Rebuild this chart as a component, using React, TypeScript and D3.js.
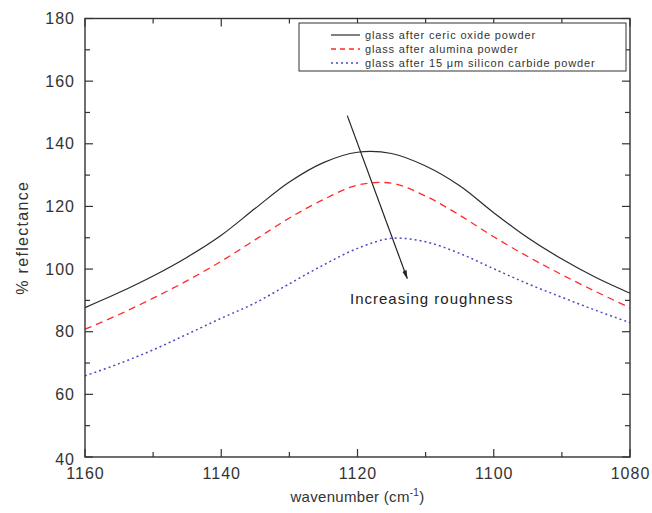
import React from "react";
import * as d3 from "d3";

const wavenumbers = [1160, 1155, 1150, 1145, 1140, 1135, 1130, 1125, 1120, 1115, 1110, 1105, 1100, 1095, 1090, 1085, 1080];
const cericOxide = [87.7, 92.5, 97.8, 103.8, 110.8, 119.4, 127.8, 134.0, 137.3, 136.9, 132.9, 126.6, 118.0, 110.0, 103.2, 97.3, 92.3];
const alumina = [80.8, 85.5, 90.7, 96.3, 102.5, 109.4, 116.3, 122.2, 126.8, 127.4, 123.3, 117.2, 110.3, 104.0, 98.2, 92.8, 87.6];
const siliconCarbide = [65.9, 69.8, 74.2, 79.2, 84.3, 89.2, 95.3, 101.3, 106.6, 109.8, 108.7, 105.0, 100.1, 95.3, 91.0, 86.8, 82.9];

const seriesNames = [
  "glass after ceric oxide powder",
  "glass after alumina powder",
  "glass after 15 \u03bcm silicon carbide powder",
];
const xMajorTicks = [1160, 1140, 1120, 1100, 1080];
const xMinorTicks = [1150, 1130, 1110, 1090];
const yMajorTicks = [40, 60, 80, 100, 120, 140, 160, 180];
const yMinorTicks = [50, 70, 90, 110, 130, 150, 170];

const arrowFrom = [1121.5, 149.0];
const arrowTo = [1112.7, 97.0];
const annotationAt = [1121.1, 88.8];
const annotationText = "Increasing roughness";

const W = 652;
const H = 513;
const FONT = "'Liberation Sans', Arial, sans-serif";

export default function App() {
  const x = d3.scaleLinear().domain([1160, 1080]).range([85, 630]);
  const y = d3.scaleLinear().domain([40, 180]).range([457, 18.5]);
  const [x0, x1] = x.range();
  const [y0, y1] = y.range();

  const line = d3
    .line<number>()
    .x((_, i) => x(wavenumbers[i]))
    .y((d) => y(d))
    .curve(d3.curveCatmullRom.alpha(0.5));

  const series = [
    { name: seriesNames[0], values: cericOxide, color: "#2b2b2b", dash: "none", legendDash: "none", width: 1.2 },
    { name: seriesNames[1], values: alumina, color: "#ff2a2a", dash: "7,5", legendDash: "5,4", width: 1.3 },
    { name: seriesNames[2], values: siliconCarbide, color: "#4a4ac8", dash: "2,3", legendDash: "2,3", width: 1.5 },
  ];

  const axisColor = "#333";
  const major = 8;
  const minor = 5;

  const ticks: JSX.Element[] = [];
  xMajorTicks.concat(xMinorTicks).forEach((t, i) => {
    const len = xMajorTicks.includes(t) ? major : minor;
    ticks.push(<line key={"xb" + i} x1={x(t)} x2={x(t)} y1={y0} y2={y0 - len} stroke={axisColor} strokeWidth={1.2} />);
    ticks.push(<line key={"xt" + i} x1={x(t)} x2={x(t)} y1={y1} y2={y1 + len} stroke={axisColor} strokeWidth={1.2} />);
  });
  yMajorTicks.concat(yMinorTicks).forEach((t, i) => {
    const len = yMajorTicks.includes(t) ? major : minor;
    ticks.push(<line key={"yl" + i} x1={x0} x2={x0 + len} y1={y(t)} y2={y(t)} stroke={axisColor} strokeWidth={1.2} />);
    ticks.push(<line key={"yr" + i} x1={x1} x2={x1 - len} y1={y(t)} y2={y(t)} stroke={axisColor} strokeWidth={1.2} />);
  });

  const legendX = 299;
  const legendY = 23;

  return (
    <svg width={W} height={H} style={{ position: "absolute", left: 0, top: 0, background: "#fff" }} fontFamily={FONT}>
      <defs>
        <marker id="arrowhead" viewBox="0 0 10 10" refX="9" refY="5" markerWidth="9" markerHeight="9" orient="auto" markerUnits="userSpaceOnUse">
          <path d="M0,2.5 L10,5 L0,7.5 Z" fill="#222" />
        </marker>
      </defs>
      <rect x={0} y={0} width={W} height={H} fill="#fff" />
      {series.map((s) => (
        <path key={s.name} d={line(s.values) || ""} fill="none" stroke={s.color} strokeWidth={s.width} strokeDasharray={s.dash} />
      ))}
      <rect x={x0} y={y1} width={x1 - x0} height={y0 - y1} fill="none" stroke={axisColor} strokeWidth={1.4} />
      {ticks}
      {xMajorTicks.map((t) => (
        <text key={"xl" + t} x={x(t) + 0.5} y={y0 + 22} textAnchor="middle" fontSize={16} letterSpacing={1} fill="#333">
          {t}
        </text>
      ))}
      {yMajorTicks.map((t) => (
        <text key={"yl" + t} x={x0 - 10} y={y(t) + (t === 40 ? 2 : 0)} dy="0.35em" textAnchor="end" fontSize={16} letterSpacing={1} fill="#333">
          {t}
        </text>
      ))}
      <text x={(x0 + x1) / 2} y={502} textAnchor="middle" fontSize={15} letterSpacing={0.3} fill="#333">
        wavenumber (cm<tspan dy={-6} fontSize={10}>-1</tspan>
        <tspan dy={6}>)</tspan>
      </text>
      <text transform={`translate(28,${(y0 + y1) / 2}) rotate(-90)`} textAnchor="middle" fontSize={16} letterSpacing={1.3} fill="#333">
        % reflectance
      </text>
      <line
        x1={x(arrowFrom[0])}
        y1={y(arrowFrom[1])}
        x2={x(arrowTo[0])}
        y2={y(arrowTo[1])}
        stroke="#222"
        strokeWidth={1.2}
        markerEnd="url(#arrowhead)"
      />
      <text x={x(annotationAt[0])} y={y(annotationAt[1])} fontSize={15} letterSpacing={1} fill="#222">
        {annotationText}
      </text>
      <rect x={legendX} y={legendY} width={327} height={48} fill="#fff" stroke={axisColor} strokeWidth={1} />
      {series.map((s, i) => (
        <g key={"lg" + i}>
          <line x1={331} x2={360} y1={legendY + 12 + i * 14} y2={legendY + 12 + i * 14} stroke={s.color} strokeWidth={s.width} strokeDasharray={s.legendDash} />
          <text x={365} y={legendY + 12 + i * 14} dy="0.35em" fontSize={11} letterSpacing={0.85} fill="#333">
            {s.name}
          </text>
        </g>
      ))}
    </svg>
  );
}
